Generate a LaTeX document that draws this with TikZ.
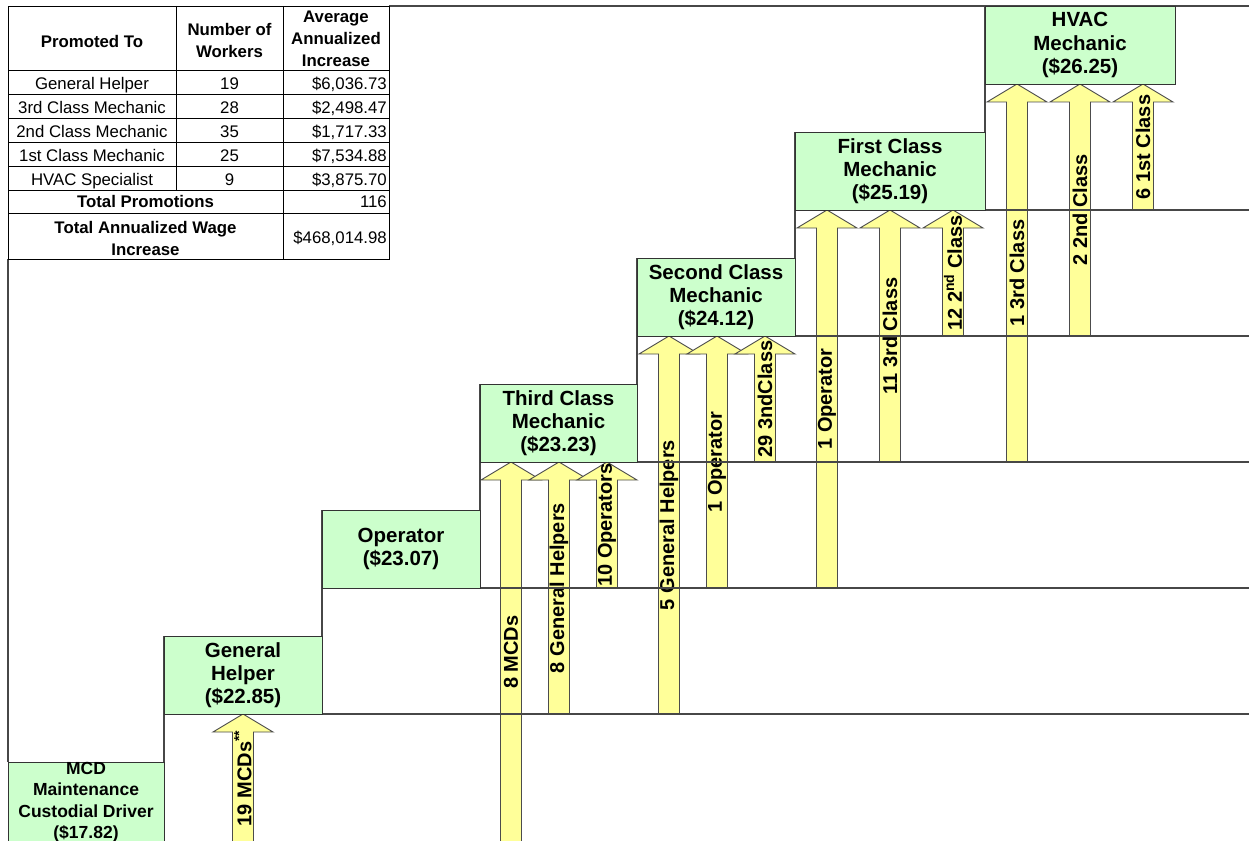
\documentclass[tikz,border=0pt]{standalone}
\usepackage{fontspec}
\setmainfont{Liberation Sans}
\usepackage{tikz}
\usepackage{xcolor}
\usetikzlibrary{calc,positioning,backgrounds}
\definecolor{stepgreenc}{HTML}{CCFFCC}
\definecolor{promoyellowc}{HTML}{FFFF99}
\colorlet{stepgreen}{stepgreenc}
\colorlet{promoyellow}{promoyellowc}
\colorlet{linecolor}{black!72}
\tikzstyle{stepbox} =[
    draw=black!80,
    fill=stepgreen,
    line width=0.9pt,
    minimum width=158pt,
    minimum height=78pt,
    inner sep=0pt,
    outer sep=0pt,
    align=center,
    font=\fontsize{20.5}{23.3}\selectfont\bfseries
    ]
\tikzstyle{stair} =[draw=linecolor, line width=1.5pt]
\tikzstyle{promoarrow} =[fill=promoyellow, draw=black!70, line width=0.9pt]
\tikzstyle{promolabel} =[rotate=90, inner sep=0pt, font=\fontsize{20}{20}\selectfont\bfseries]
\tikzstyle{tblline} =[draw=black, line width=0.8pt]
\tikzstyle{cell} =[inner sep=0pt, text height=12pt, text depth=3.5pt, font=\fontsize{16.8}{20}\selectfont]
\tikzstyle{headcell} =[inner sep=0pt, align=center, font=\fontsize{16.8}{22}\selectfont\bfseries]
\newcommand{\promo}[4]{% target box, offset, source box, label
  \coordinate (tip) at ($(#1.south west)+(#2,0)$);
  \coordinate (tail) at (tip |- #3.south);
  \filldraw[promoarrow] let \p1=(tail), \p2=(tip) in
    (\x1-10.5pt,\y1) -- (\x2-10.5pt,\y2-18pt) -- (\x2-30pt,\y2-18pt) -- (\p2)
    -- (\x2+30pt,\y2-18pt) -- (\x2+10.5pt,\y2-18pt) -- (\x1+10.5pt,\y1) -- cycle;
  \node[promolabel] (#1-#2) at ($(tail)!.5!(tip)$) {#4};
}

\begin{document}
\begin{tikzpicture}[x=1pt, y=-1pt]
\useasboundingbox (0,0) rectangle (1249,840);
% steps
\node[stepbox, minimum width=156pt, font=\fontsize{17.5}{21.5}\selectfont\bfseries, anchor=north west] (mcd) at (8,762) {MCD\\Maintenance\\Custodial Driver\\(\$17.82)};
\node[stepbox, above right=48pt and 0pt of mcd] (gh) {General\\Helper\\(\$22.85)};
\node[stepbox, above right=48pt and 0pt of gh] (op) {Operator\\(\$23.07)};
\node[stepbox, minimum width=157pt, above right=48pt and 0pt of op] (third) {Third Class\\Mechanic\\(\$23.23)};
\node[stepbox, above right=48pt and 0pt of third] (second) {Second Class\\Mechanic\\(\$24.12)};
\node[stepbox, minimum width=190pt, above right=48pt and 0pt of second] (first) {First Class\\Mechanic\\(\$25.19)};
\node[stepbox, minimum width=190pt, above right=48pt and 0pt of first] (hvac) {HVAC\\Mechanic\\(\$26.25)};

% table
\coordinate (tnw) at (8,6);
\coordinate (tse) at (389,259);
\coordinate (edge) at (1249,6);
\draw[tblline] (tnw) rectangle (tse);
\foreach \y in {70,94,118,142,166,190,213} \draw[tblline] (8,\y) -- (389,\y);
\draw[tblline] (176,6) -- (176,190);
\draw[tblline] (283,6) -- (283,259);
\node[headcell] (h1) at (92,41) {Promoted To};
\node[headcell] (h2) at (229.5,40) {Number of\\Workers};
\node[headcell] (h3) at (336,39) {Average\\Annualized\\Increase};
\foreach \y/\job/\num/\amt [count=\i] in {85/General Helper/19/{\$6,036.73}, 109/3rd Class Mechanic/28/{\$2,498.47},
    133/2nd Class Mechanic/35/{\$1,717.33}, 157/1st Class Mechanic/25/{\$7,534.88}, 181/HVAC Specialist/9/{\$3,875.70}}{
  \node[cell] (job\i) at (92,\y) {\job};
  \node[cell] (num\i) at (229.5,\y) {\num};
  \node[cell, anchor=east] (amt\i) at (387,\y) {\amt};
}
\node[cell, font=\fontsize{16.8}{20}\selectfont\bfseries] (totp) at (145.5,203) {Total Promotions};
\node[cell, anchor=east] (totpn) at (387,203) {116};
\node[headcell] (totw) at (145.5,238) {Total Annualized Wage\\Increase};
\node[cell, anchor=east] (totwn) at (387,239) {\$468,014.98};

\begin{scope}[on background layer]
\promo{gh}{79}{mcd}{19 MCDs\textsuperscript{**}}
\promo{third}{31}{mcd}{8 MCDs}
\promo{third}{79}{gh}{8 General Helpers}
\promo{third}{127}{op}{10 Operators}
\promo{second}{32}{gh}{5 General Helpers}
\promo{second}{80}{op}{1 Operator}
\promo{second}{128}{third}{29 3ndClass}
\promo{first}{32}{op}{1 Operator}
\promo{first}{95}{third}{11 3rd Class}
\promo{first}{158}{second}{12 2\textsuperscript{nd} Class}
\promo{hvac}{32}{third}{1 3rd Class}
\promo{hvac}{95}{second}{2 2nd Class}
\promo{hvac}{158}{first}{6 1st Class}
% stairs
\draw[stair] (tse -| tnw) -- (mcd.north west);
\draw[stair] (tse |- tnw) -- (edge);
\foreach \lo/\hi in {mcd/gh,gh/op,op/third,third/second,second/first,first/hvac}
  \draw[stair] (\hi.north west) -- (\lo.north east);
\foreach \b in {gh,op,third,second,first}
  \draw[stair] (\b.south west) -- (\b.south -| edge);
\end{scope}
\end{tikzpicture}
\end{document}
